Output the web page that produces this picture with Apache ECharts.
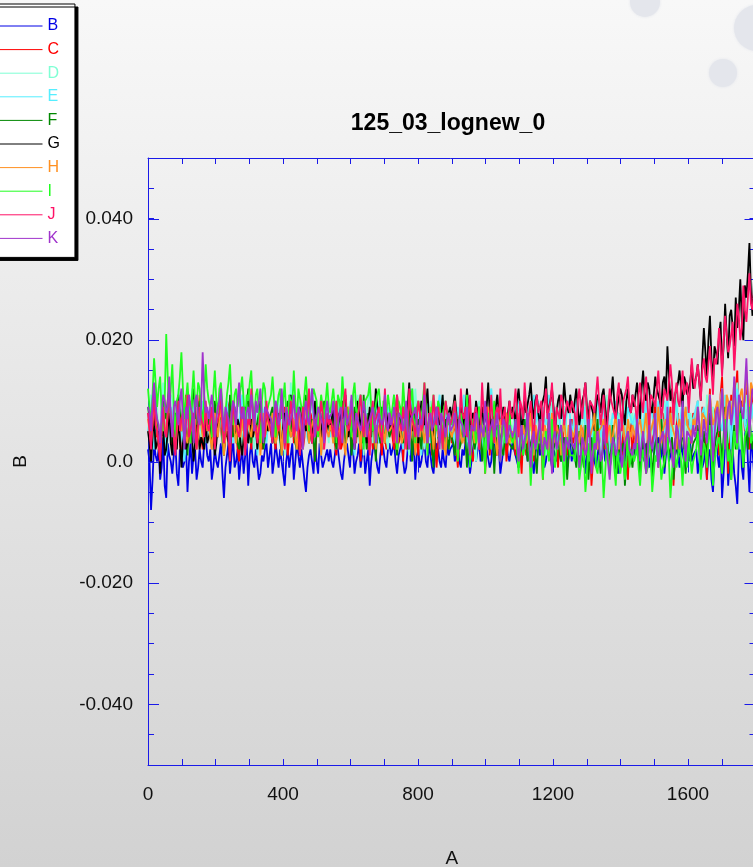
<!DOCTYPE html>
<html>
<head>
<meta charset="utf-8">
<title>125_03_lognew_0</title>
<script src="https://cdn.jsdelivr.net/npm/echarts@6/dist/echarts.min.js"></script>
<style>
  html, body { margin: 0; padding: 0; }
  #chart { width: 753px; height: 867px; }
</style>
</head>
<body>
<div id="chart"></div>
<script>
// Recorded traces B..K: one sample every SAMPLE_STEP units of A,
// values stored in thousandths of B.
const SAMPLE_STEP = 4.5;
const SCALE = 0.001;

const seriesNames = ['B', 'C', 'D', 'E', 'F', 'G', 'H', 'I', 'J', 'K'];
const seriesColors = ['#0000e6', '#ff0000', '#7fffd4', '#55eeff', '#008800',
                      '#000000', '#ff9020', '#20ff20', '#ff1166', '#a033cc'];

const valuesB = [
  2,0,-8,-3,3,1,0,2,-3,-1,4,-4,-6,3,1,0,-2,1,3,-2,-4,2,2,-1,0,3,-5,0,3,-2,1,2,-3,-1,2,0,-1,3,4,1,
  0,2,-3,-1,2,0,-1,1,3,-2,-6,-1,1,3,-2,1,4,-1,0,2,-3,0,2,-2,1,3,-4,1,3,0,-1,2,2,-3,-2,1,0,2,3,-1,
  1,3,-2,0,3,1,-1,2,0,-2,-4,0,2,-1,1,3,-3,0,3,1,-1,2,2,-3,-5,-1,1,2,0,-2,3,0,-2,3,1,-1,-1,1,2,0,
  2,0,-1,1,3,2,0,-2,-3,0,2,3,1,-1,4,2,-2,0,1,3,-1,1,3,-2,0,2,-4,0,2,3,1,-1,-2,1,3,2,0,-1,2,3,
  1,2,3,0,-2,1,2,3,0,-2,-1,2,4,0,1,3,-3,1,2,-1,0,2,3,0,-1,3,1,-1,-2,1,3,2,0,-1,2,0,-1,3,1,2,
  2,3,0,1,3,0,-1,2,1,3,4,1,-2,0,2,4,0,2,3,0,1,3,-1,2,2,-1,0,3,4,1,1,2,-2,0,2,4,3,1,0,2,
  3,2,1,0,-1,3,2,1,4,2,0,3,2,0,-2,1,3,4,1,2,2,-1,0,3,4,1,-1,2,2,0,3,4,0,2,1,3,-1,1,3,0,
  2,3,0,1,3,0,1,2,-2,1,2,3,4,2,0,-1,1,3,-1,2,3,0,2,1,0,3,4,2,1,0,-2,1,2,4,3,0,0,2,1,3,
  2,1,4,2,0,3,1,0,3,2,-1,1,2,3,0,2,4,0,1,3,-2,1,3,0,1,2,0,4,2,1,-1,3,3,0,1,2,2,3,0,1,
  1,2,-2,0,3,-1,0,2,-3,1,2,-3,-5,0,4,1,-1,3,-6,-2,3,5,-4,0,6,2,-2,-4,-7,1,5,-1,-3,4,7,0,-5,3,2,-2,
  -1
];
const valuesC = [
  8,6,3,9,11,4,5,2,0,7,9,6,4,10,12,5,2,8,7,4,10,3,1,9,6,11,9,5,3,6,8,10,5,7,11,4,2,9,7,5,
  6,4,2,7,9,5,4,8,8,3,1,6,7,9,10,4,3,7,6,2,0,5,8,9,5,3,9,6,2,8,7,4,4,7,10,2,3,8,6,5,
  5,7,8,4,2,6,7,3,4,8,9,5,1,4,6,9,3,6,8,2,5,7,2,4,9,6,4,8,7,3,0,5,6,9,3,2,8,6,5,4,
  4,6,7,3,1,5,8,2,3,7,6,4,9,5,2,8,5,3,7,6,0,4,6,8,4,2,8,5,2,7,5,3,7,4,1,6,6,2,3,7,
  6,4,2,5,8,3,4,7,0,5,7,2,3,6,9,4,5,3,1,7,6,2,8,5,2,6,4,1,7,4,-1,3,5,7,3,2,8,5,4,6,
  3,5,7,2,-1,4,5,7,8,3,2,6,6,1,0,5,4,7,9,2,3,6,-2,4,6,1,4,7,8,3,1,5,5,2,7,6,0,3,4,5,
  5,3,1,6,8,2,-2,4,6,1,3,7,9,4,0,6,4,2,7,3,-3,6,5,1,8,4,2,7,6,3,-1,5,4,2,9,6,1,3,5,7,
  3,5,8,2,-1,4,6,1,2,7,9,3,-4,0,5,2,7,4,1,6,4,2,10,5,-2,3,6,1,3,6,8,4,0,7,5,2,-3,4,7,1,
  4,6,9,3,1,5,6,2,-2,4,8,1,3,7,10,5,-1,3,5,8,7,2,2,6,9,4,-4,1,6,8,3,5,11,2,0,6,7,3,4,8,
  5,7,10,4,2,9,8,3,-3,6,12,1,4,8,9,5,1,11,14,6,6,9,-2,4,11,7,5,12,15,6,3,10,9,5,13,8,2,12,10,6,
  8
];
const valuesD = [
  7,9,11,6,3,8,9,4,5,10,13,7,2,5,8,11,10,6,4,8,12,9,6,3,1,7,9,5,7,12,11,6,3,9,8,4,5,7,10,8,
  6,8,10,5,2,6,8,11,12,7,4,9,7,3,1,6,9,4,5,10,11,7,3,5,8,11,6,3,10,6,2,9,7,5,12,8,4,10,8,6,
  5,7,9,6,3,8,11,4,6,9,1,5,8,3,13,9,4,8,7,6,10,5,2,8,9,4,5,10,12,7,3,9,7,5,10,6,4,8,6,3,
  8,6,3,7,10,4,5,9,14,8,2,5,7,10,9,6,4,8,11,3,6,9,1,5,8,10,12,6,3,9,7,4,10,7,5,8,9,4,2,6,
  6,8,11,5,3,7,8,6,4,9,10,3,1,6,7,4,12,8,5,9,9,4,2,7,6,5,10,3,3,8,8,6,5,9,11,4,2,6,7,5,
  4,7,9,5,1,6,7,3,11,8,3,7,6,4,8,2,0,6,10,5,5,8,2,6,8,4,12,7,3,9,6,3,9,5,1,8,7,4,4,6,
  5,7,10,4,2,6,7,5,3,8,9,4,0,5,6,9,11,6,4,7,8,3,1,5,6,8,10,4,2,6,7,9,4,5,9,7,3,6,6,4,
  4,6,8,3,1,5,6,8,10,4,2,6,7,5,3,7,9,4,0,6,5,8,11,5,3,7,7,4,2,6,8,3,5,7,10,5,1,6,6,8,
  5,7,9,4,2,6,7,3,11,8,3,6,6,4,0,5,8,7,4,9,10,6,2,5,7,4,5,8,12,6,1,7,6,3,9,5,3,8,7,5,
  6,8,10,5,2,7,8,4,11,9,4,6,9,5,1,8,7,10,12,6,5,9,3,7,10,5,6,11,13,7,2,9,8,6,11,8,4,10,9,6,
  7
];
const valuesE = [
  5,7,9,4,2,6,7,3,4,8,10,5,1,4,6,9,8,5,3,7,11,6,5,2,0,4,7,9,4,6,9,3,2,8,6,5,10,4,3,6,
  6,4,2,6,9,5,4,8,7,3,1,6,10,7,5,4,3,6,8,5,6,9,11,7,2,5,7,4,4,8,9,6,1,4,6,9,8,5,3,6,
  7,5,3,8,10,6,5,3,1,6,8,5,4,7,11,6,6,4,2,7,9,6,5,8,7,4,3,9,12,7,4,6,8,5,1,4,6,8,9,5,
  4,6,8,5,2,7,10,6,6,4,3,8,9,6,5,3,1,5,7,9,11,6,4,7,8,4,2,6,6,8,10,5,3,6,7,4,5,8,9,6,
  6,8,10,5,3,6,7,4,2,7,9,6,5,8,12,7,4,6,8,5,1,4,6,9,10,6,3,8,7,4,5,9,11,6,2,5,8,6,4,7,
  7,5,3,6,9,7,5,8,11,6,2,5,8,6,4,7,10,8,6,4,1,5,9,7,5,8,12,6,3,5,7,9,10,6,4,7,8,5,6,8,
  7,9,4,6,10,8,6,4,2,6,9,7,5,8,11,6,7,10,3,5,9,7,6,8,11,6,4,9,8,5,2,7,10,8,5,6,9,10,7,5,
  6,8,10,6,3,7,8,9,5,4,9,7,2,6,8,10,11,7,4,8,9,5,6,9,1,6,8,7,10,8,5,6,7,9,3,5,9,8,7,6,
  6,8,3,7,9,6,5,8,10,7,4,9,8,5,2,7,10,8,6,4,5,9,11,6,3,8,7,10,9,6,4,8,10,7,6,9,8,5,5,7,
  7,9,10,6,4,8,9,7,6,9,11,5,3,7,8,10,10,6,5,8,11,7,7,9,2,6,9,8,12,10,6,7,9,6,4,9,11,7,8,10,
  9
];
const valuesF = [
  9,7,4,8,12,9,6,4,2,6,10,8,7,10,13,6,3,7,8,5,11,8,5,9,9,5,1,6,7,10,12,8,4,7,10,6,6,9,8,5,
  7,5,3,6,10,7,5,8,9,4,1,6,8,5,11,7,4,9,6,3,2,6,9,5,7,9,12,6,3,7,8,5,5,8,10,6,2,4,6,8,
  6,8,9,5,3,6,8,4,1,5,7,8,10,6,4,7,6,3,2,6,9,7,5,8,11,6,3,5,7,4,0,6,8,5,4,7,10,6,5,7,
  5,6,8,4,2,5,7,9,10,6,3,4,6,8,1,5,9,6,4,7,7,3,11,6,2,8,5,4,8,5,0,6,6,3,9,5,3,7,7,4,
  4,6,7,3,1,5,8,4,3,7,6,2,9,5,0,6,5,3,7,4,2,6,10,5,4,7,6,2,-1,5,8,4,3,6,5,2,7,4,2,5,
  5,3,1,4,7,2,3,5,8,4,-1,3,4,6,6,2,2,5,9,4,0,3,5,6,3,2,7,4,-2,3,6,5,4,2,1,4,8,5,3,3,
  2,3,5,1,-1,2,4,5,7,3,0,2,3,4,6,1,-2,3,5,2,1,4,4,2,8,3,-1,2,3,5,6,1,0,3,4,2,-3,1,5,3,
  3,1,-1,2,5,3,1,-1,6,2,-3,1,4,0,2,3,7,2,-2,1,3,4,5,0,0,2,6,3,-1,-2,4,1,2,3,-4,0,5,2,1,-1,
  2,3,5,1,-2,2,4,0,0,3,6,2,-3,1,3,4,1,0,7,3,-1,2,4,1,2,4,-3,0,5,2,1,3,6,1,-2,2,3,0,0,3,
  3,4,6,2,-1,3,5,1,1,4,8,3,-2,2,4,5,7,3,0,4,9,5,2,1,-3,3,6,2,3,6,10,4,-1,3,5,2,8,4,2,5,
  4
];
const valuesG = [
  5,3,0,4,8,2,3,5,-2,4,6,1,2,5,9,3,1,6,4,2,7,4,-1,3,5,2,3,6,8,4,0,3,6,5,2,4,4,2,7,3,
  3,5,7,4,1,3,6,7,9,5,2,4,5,3,0,6,8,5,4,7,6,3,1,4,9,6,3,5,7,4,5,6,2,5,8,3,4,7,6,5,
  7,5,3,6,9,7,5,4,2,6,8,5,6,8,11,7,4,6,7,5,1,4,9,6,5,7,8,5,3,6,10,7,6,5,4,8,8,6,5,7,
  6,7,9,5,3,6,8,7,5,8,11,6,4,7,7,5,2,6,10,8,6,5,8,7,3,6,9,8,5,7,12,9,7,6,4,7,9,8,6,5,
  8,6,5,8,11,7,4,6,9,7,7,9,13,8,5,7,8,6,3,7,10,8,6,9,12,7,7,6,4,8,9,7,6,8,11,6,5,7,8,9,
  7,9,11,8,4,7,9,6,6,8,12,9,5,7,8,6,10,8,3,7,9,6,7,9,13,8,5,7,8,9,11,8,6,7,9,6,4,8,10,7,
  9,8,6,10,12,9,5,7,10,8,8,11,13,9,7,10,11,8,6,9,9,11,14,8,8,10,12,9,5,8,10,11,7,9,13,10,9,8,11,9,
  8,10,12,9,6,8,10,11,13,9,7,10,9,8,5,9,11,10,8,11,12,9,6,8,10,11,14,10,7,9,9,12,11,8,6,10,12,9,8,11,
  9,11,13,10,7,12,15,11,10,13,12,9,8,11,14,12,11,10,9,13,14,11,19,14,10,12,8,11,12,13,15,12,9,14,13,11,11,13,16,12,
  12,14,16,13,10,17,22,18,14,20,24,17,13,19,18,16,21,23,15,19,26,21,17,24,25,22,19,27,22,25,30,23,20,29,27,31,36,28,24,30,
  28
];
const valuesH = [
  7,5,3,6,10,7,5,3,1,5,8,6,4,8,11,7,6,4,2,5,9,6,5,8,7,4,3,6,10,5,6,7,2,4,8,6,4,7,9,5,
  6,4,2,5,8,6,4,7,9,5,1,4,7,6,5,8,10,5,3,6,6,4,8,5,2,6,7,5,4,7,9,4,5,6,1,5,8,4,6,7,
  5,6,8,5,3,4,7,6,1,5,6,7,9,6,4,5,7,4,2,6,8,5,5,7,10,6,3,5,6,7,4,4,8,6,1,5,7,6,5,4,
  6,5,3,6,8,4,4,6,7,3,1,5,9,6,5,4,3,6,7,5,2,6,8,4,6,5,4,7,9,5,2,6,5,4,7,5,3,6,6,5,
  5,6,8,4,2,5,6,3,4,6,9,5,3,4,7,6,1,5,6,4,8,5,3,6,5,4,9,5,2,6,7,4,4,5,6,3,1,6,8,5,
  4,5,7,4,2,6,6,3,3,5,8,4,1,6,5,3,7,5,2,4,6,6,4,5,9,4,3,6,5,3,1,5,7,4,4,6,8,5,3,4,
  5,4,2,5,7,4,3,6,6,3,4,5,8,4,1,6,5,3,7,5,3,6,6,4,2,5,8,3,4,6,5,4,1,5,7,4,3,6,6,5,
  4,5,7,4,3,6,5,3,1,5,6,4,4,6,8,3,2,5,5,6,7,4,3,5,6,3,4,6,8,4,2,5,5,6,3,4,7,5,4,6,
  5,4,3,6,7,5,4,6,8,4,2,5,6,7,5,4,9,6,3,5,6,7,4,5,8,6,5,4,2,6,7,5,4,7,9,6,6,5,3,7,
  6,7,9,6,4,8,8,7,5,9,11,8,6,7,9,10,7,9,12,8,5,11,10,7,8,10,13,9,6,8,11,12,9,10,15,11,7,13,12,10,
  10
];
const valuesI = [
  12,9,6,11,17,13,9,12,14,8,5,10,21,14,8,12,16,9,4,10,11,14,18,12,7,10,13,9,3,11,15,10,9,13,12,8,6,11,16,12,
  10,9,4,11,15,10,8,12,13,9,3,8,11,13,16,10,6,11,12,9,9,12,14,10,5,11,10,13,15,9,7,11,12,8,3,10,13,12,8,9,
  9,11,14,10,4,9,11,12,7,10,13,8,3,11,10,9,15,10,6,12,12,9,8,11,14,10,5,9,9,12,12,10,4,8,11,11,7,10,13,9,
  8,10,12,9,3,11,10,8,14,10,6,9,9,7,4,11,13,9,7,10,11,8,2,10,10,11,13,9,5,8,8,11,12,9,4,10,9,8,11,9,
  7,9,11,8,2,10,9,7,13,9,4,8,8,10,12,7,3,9,10,8,6,10,13,9,1,7,8,9,11,8,5,10,9,7,2,9,10,8,6,7,
  6,8,10,5,0,7,8,6,4,5,11,7,-1,4,7,6,3,5,9,7,5,4,-2,6,8,5,2,7,10,4,4,6,0,5,7,3,3,6,9,4,
  3,4,7,2,-2,3,5,1,1,4,8,2,-4,1,4,3,2,2,6,4,-3,1,5,2,0,3,7,1,-1,2,3,4,6,1,-4,2,4,3,1,1,
  1,0,4,2,-3,-1,2,1,-5,-2,3,0,0,2,5,-1,-2,1,1,0,-6,-2,3,1,-1,0,4,-1,-4,2,2,-2,0,1,-3,0,5,-1,-1,2,
  0,1,3,-1,-4,0,2,2,-2,-1,5,1,-5,-2,1,0,3,1,-3,-1,0,2,4,0,-6,-2,2,1,-1,-1,3,0,-4,2,1,-1,4,1,-2,0,
  1,2,5,1,-3,0,3,2,-1,3,6,1,-4,0,2,3,4,1,-2,2,7,4,0,2,-3,1,5,3,2,5,8,2,-1,4,4,6,9,3,3,5,
  5
];
const valuesJ = [
  8,5,2,7,11,6,5,3,0,6,9,5,4,8,12,7,6,4,1,6,10,5,7,8,3,6,11,4,5,7,8,5,2,6,9,7,6,4,10,6,
  5,7,9,5,2,6,7,8,11,6,3,5,8,4,0,6,10,7,6,5,4,6,9,7,1,5,7,6,12,8,5,6,3,5,8,7,6,4,10,7,
  6,5,3,7,9,6,5,8,11,7,2,5,7,6,10,7,4,6,8,5,1,4,9,7,6,8,12,6,3,5,7,7,5,6,10,8,2,5,8,6,
  7,6,4,7,10,5,2,6,8,8,12,7,5,6,9,8,3,5,7,7,11,6,4,8,8,5,1,7,10,6,6,8,9,5,3,7,12,6,5,8,
  8,6,3,8,11,7,6,5,9,7,2,6,12,8,7,6,4,7,10,8,5,6,13,7,3,8,8,6,11,7,6,9,9,6,2,7,10,8,7,6,
  6,8,10,7,3,6,12,8,7,9,4,7,11,6,5,8,9,7,2,6,13,8,8,9,5,7,11,6,3,8,9,7,12,6,6,9,4,7,10,8,
  7,9,12,8,4,10,9,7,13,9,6,8,10,7,3,9,11,8,8,10,5,9,12,7,7,10,13,8,4,9,9,7,11,10,6,8,10,9,8,10,
  9,8,5,10,12,9,7,11,13,8,4,10,10,9,8,11,14,10,6,8,11,11,3,9,12,10,9,8,7,11,13,9,5,10,10,12,14,9,8,11,
  10,9,6,11,13,10,8,12,14,9,5,11,11,10,9,12,15,11,7,9,12,12,10,10,16,13,6,11,13,10,9,12,15,11,11,13,8,12,17,14,
  12,14,16,13,10,15,17,14,13,16,19,15,11,17,16,18,22,19,14,20,24,21,18,19,21,23,15,20,26,24,20,22,29,25,23,27,31,26,25,28,
  27
];
const valuesK = [
  9,8,5,10,13,9,7,6,3,8,11,10,8,9,14,7,4,9,10,8,6,10,12,7,2,9,7,11,9,8,3,10,11,7,6,9,18,11,8,9,
  7,9,11,8,4,7,9,10,12,8,5,9,8,7,3,8,10,9,6,10,13,8,7,9,4,8,9,7,11,9,5,10,8,8,12,7,3,9,9,8,
  8,7,4,8,10,9,6,7,12,8,3,9,9,6,7,8,11,7,5,9,8,6,2,8,10,7,6,9,12,8,4,7,9,8,7,6,3,8,10,7,
  7,8,10,7,4,6,8,9,3,7,9,6,6,8,11,7,2,8,8,6,5,7,10,8,4,6,7,8,9,7,3,6,8,8,6,7,11,6,5,8,
  6,7,9,6,3,8,8,7,5,6,10,5,2,7,7,8,9,6,4,7,6,8,11,6,3,7,8,5,5,7,9,6,2,8,7,6,4,7,8,5,
  5,6,8,5,2,7,7,6,4,5,9,4,1,6,6,5,8,7,3,6,5,4,10,6,2,5,6,7,4,6,8,4,0,5,7,6,3,4,6,5,
  4,5,7,3,0,4,6,2,2,5,8,3,-1,4,5,2,3,5,7,3,1,4,4,2,8,3,-2,4,5,2,3,5,6,3,0,4,4,2,7,3,
  3,2,6,3,-1,1,4,3,1,2,7,4,-2,1,3,2,5,3,0,1,6,3,2,2,-3,1,4,3,1,2,7,4,-1,1,3,3,5,2,2,1,
  3,2,7,4,0,3,5,2,-2,1,6,3,2,4,8,2,-1,3,4,5,1,2,9,4,3,3,-1,2,6,5,2,4,10,3,0,5,5,4,3,6,
  4,5,9,6,1,4,7,5,3,7,11,6,0,4,8,9,5,8,12,7,2,6,9,10,6,8,14,9,3,11,10,8,7,12,17,10,4,9,12,11,
  9
];

const seriesValues = [valuesB, valuesC, valuesD, valuesE, valuesF,
                      valuesG, valuesH, valuesI, valuesJ, valuesK];

// Axis ticks and labels
const xMin = 0, xMax = 1800;
const xMinorStep = 100;
const xMajorStep = 400;
const xTickValues = [0, 400, 800, 1200, 1600];
const yMin = -0.05, yMax = 0.05;
const yMinorStep = 0.005;
const yTickValues = [-0.04, -0.02, 0, 0.02, 0.04];
const yTickLabels = ['-0.040', '-0.020', '0.0', '0.020', '0.040'];

const FONT = '"Liberation Sans", Arial, Helvetica, sans-serif';
const AXIS_BLUE = '#1a1ae8';
const MINOR_LEN = 6;
const MAJOR_LEN = 11;

const chart = echarts.init(document.getElementById('chart'), null, { renderer: 'canvas' });

function tickAxis(extra) {
  return Object.assign({
    type: 'value',
    gridIndex: 0,
    splitLine: { show: false },
    axisLine: { show: false },
    axisLabel: { show: false },
    axisTick: { show: true, inside: true, length: MINOR_LEN, lineStyle: { color: AXIS_BLUE, width: 1 } }
  }, extra);
}

function findLabel(values, labels, v, eps) {
  const k = values.findIndex((t) => Math.abs(t - v) < eps);
  return k >= 0 ? labels[k] : '';
}

const xCommon = { min: xMin, max: xMax };
const yCommon = { min: yMin, max: yMax };
const majorTick = { show: true, inside: true, length: MAJOR_LEN, lineStyle: { color: AXIS_BLUE, width: 1 } };

// Long ticks at the labelled B values, on both vertical frame edges
const yMajorTickSeries = {
  type: 'custom',
  xAxisIndex: 0,
  yAxisIndex: 0,
  silent: true,
  clip: false,
  z: 5,
  encode: { x: 0, y: 1 },
  data: yTickValues.map((v) => [xMin, v]),
  renderItem: (params, api) => {
    const v = api.value(1);
    const pL = api.coord([xMin, v]);
    const pR = api.coord([xMax, v]);
    const y = Math.round(pL[1]) + 0.5;
    return {
      type: 'group',
      children: [
        { type: 'line', shape: { x1: pL[0], y1: y, x2: pL[0] + MAJOR_LEN, y2: y },
          style: { stroke: AXIS_BLUE, lineWidth: 1 } },
        { type: 'line', shape: { x1: pR[0] - MAJOR_LEN, y1: y, x2: pR[0], y2: y },
          style: { stroke: AXIS_BLUE, lineWidth: 1 } }
      ]
    };
  }
};

const option = {
  animation: false,
  backgroundColor: new echarts.graphic.LinearGradient(0, 0, 0, 1, [
    { offset: 0, color: '#f8f8f8' },
    { offset: 1, color: '#d2d2d2' }
  ]),
  textStyle: { fontFamily: FONT },
  title: {
    text: '125_03_lognew_0',
    left: 448,
    textAlign: 'center',
    top: 112,
    padding: 0,
    textStyle: { fontFamily: FONT, fontSize: 23, fontWeight: 'bold', color: '#000' }
  },
  graphic: [
    { type: 'circle', shape: { cx: 645, cy: 2, r: 15 }, style: { fill: '#e4e6ec', shadowBlur: 3, shadowColor: '#e4e6ec' }, z: 0 },
    { type: 'circle', shape: { cx: 757, cy: 28, r: 23 }, style: { fill: '#e4e6ec', shadowBlur: 3, shadowColor: '#e4e6ec' }, z: 0 },
    { type: 'circle', shape: { cx: 723, cy: 73, r: 14 }, style: { fill: '#e4e6ec', shadowBlur: 3, shadowColor: '#e4e6ec' }, z: 0 }
  ],
  legend: {
    orient: 'vertical',
    left: -20,
    top: 4,
    padding: [14, 15, 11, 8],
    itemWidth: 54,
    itemHeight: 14,
    itemGap: 7.6,
    backgroundColor: '#ffffff',
    borderColor: '#000000',
    borderWidth: 1,
    borderRadius: 0,
    shadowColor: '#000000',
    shadowBlur: 0,
    shadowOffsetX: 3,
    shadowOffsetY: 3,
    selectedMode: false,
    itemStyle: { opacity: 0 },
    lineStyle: { width: 1 },
    textStyle: { fontFamily: FONT, fontSize: 16, lineHeight: 16 },
    data: seriesNames.map((n, i) => ({ name: n, textStyle: { color: seriesColors[i] } }))
  },
  grid: {
    left: 148,
    top: 158,
    width: 607.5,
    height: 607,
    containLabel: false,
    outerBoundsMode: 'none'
  },
  xAxis: [
    tickAxis(Object.assign({}, xCommon, {
      position: 'bottom',
      interval: xMinorStep,
      axisLine: { show: true, onZero: false, lineStyle: { color: AXIS_BLUE, width: 1 } },
      axisLabel: {
        show: true,
        margin: 20,
        fontFamily: FONT,
        fontSize: 19,
        color: '#111',
        hideOverlap: false,
        showMaxLabel: false,
        formatter: (v) => findLabel(xTickValues, xTickValues.map(String), v, 1e-6)
      },
      name: 'A',
      nameLocation: 'middle',
      nameGap: 84,
      nameTextStyle: { fontFamily: FONT, fontSize: 19, color: '#111' }
    })),
    tickAxis(Object.assign({}, xCommon, {
      position: 'bottom',
      interval: xMajorStep,
      axisTick: majorTick
    })),
    tickAxis(Object.assign({}, xCommon, {
      position: 'top',
      interval: xMinorStep,
      axisLine: { show: true, onZero: false, lineStyle: { color: AXIS_BLUE, width: 1 } }
    })),
    tickAxis(Object.assign({}, xCommon, {
      position: 'top',
      interval: xMajorStep,
      axisTick: majorTick
    }))
  ],
  yAxis: [
    tickAxis(Object.assign({}, yCommon, {
      position: 'left',
      interval: yMinorStep,
      axisLine: { show: true, onZero: false, lineStyle: { color: AXIS_BLUE, width: 1 } },
      axisLabel: {
        show: true,
        margin: 15,
        fontFamily: FONT,
        fontSize: 19,
        color: '#111',
        hideOverlap: false,
        formatter: (v) => findLabel(yTickValues, yTickLabels, v, 1e-9)
      },
      name: 'B',
      nameLocation: 'middle',
      nameRotate: 90,
      nameGap: 118,
      nameTextStyle: { fontFamily: FONT, fontSize: 19, color: '#111' }
    })),
    tickAxis(Object.assign({}, yCommon, {
      position: 'right',
      interval: yMinorStep,
      axisLine: { show: true, onZero: false, lineStyle: { color: AXIS_BLUE, width: 1 } }
    }))
  ],
  series: seriesNames.map((name, i) => ({
    name: name,
    type: 'line',
    xAxisIndex: 0,
    yAxisIndex: 0,
    symbol: 'none',
    showSymbol: false,
    sampling: null,
    silent: true,
    clip: true,
    color: seriesColors[i],
    lineStyle: { color: seriesColors[i], width: 1.8, join: 'bevel' },
    data: seriesValues[i].map((v, j) => [j * SAMPLE_STEP, v * SCALE])
  })).concat([yMajorTickSeries])
};

chart.setOption(option);
</script>
</body>
</html>
